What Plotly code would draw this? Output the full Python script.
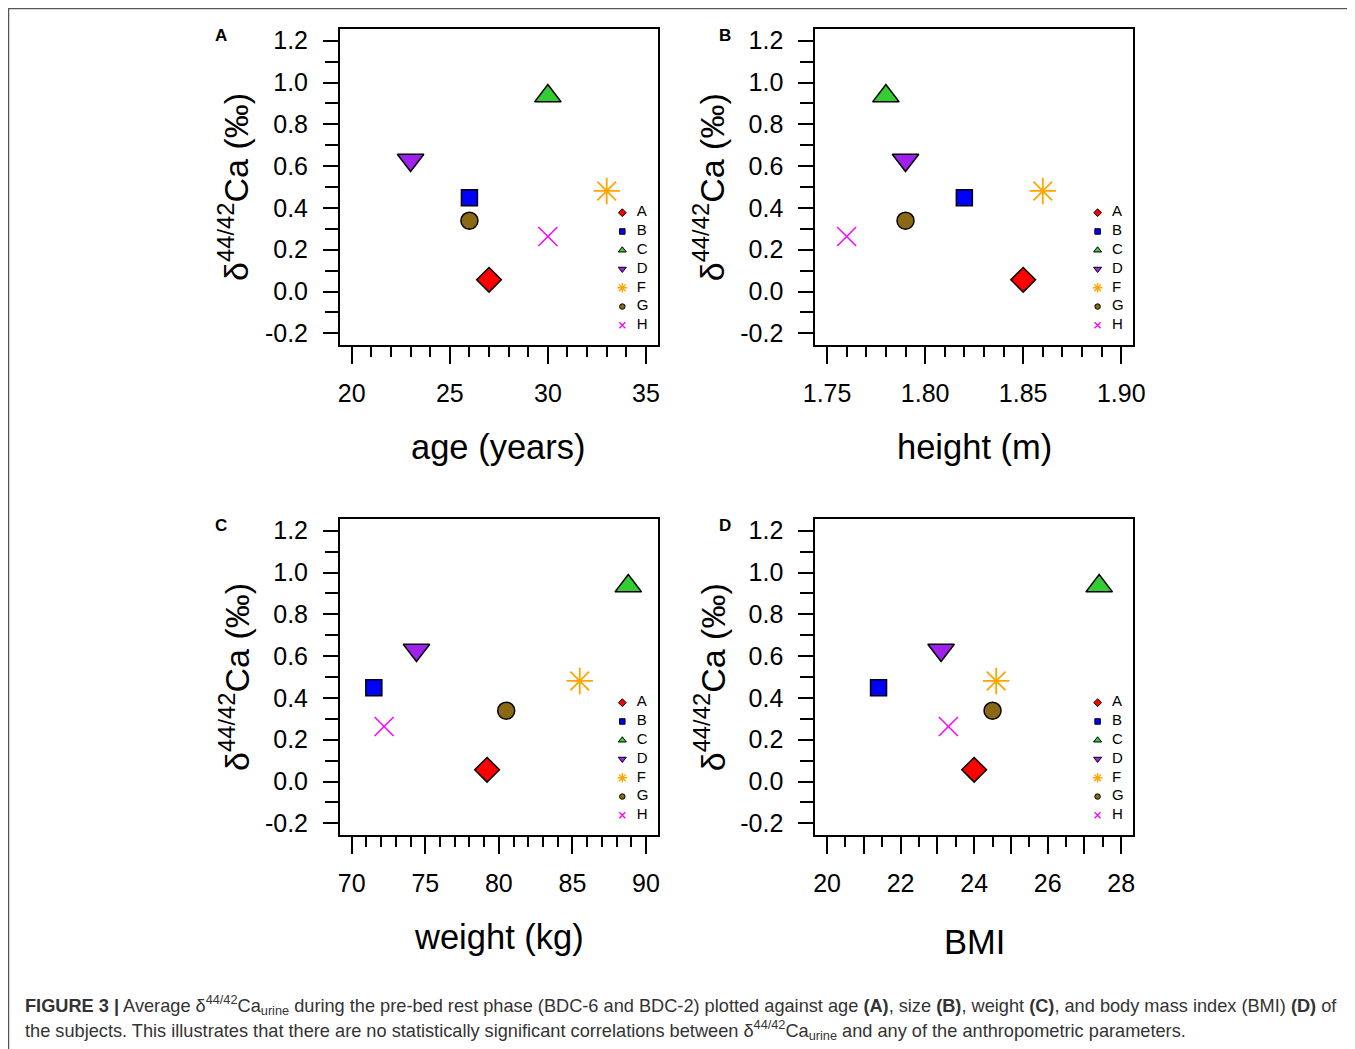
import plotly.graph_objects as go

# ---------------- data ----------------
subjects = ["A", "B", "C", "D", "F", "G", "H"]
delta_ca = [0.056, 0.449, 0.935, 0.629, 0.481, 0.339, 0.263]
age_years = [27, 26, 30, 23, 33, 26, 30]
height_m = [1.85, 1.82, 1.78, 1.79, 1.86, 1.79, 1.76]
weight_kg = [79.2, 71.5, 88.8, 74.4, 85.5, 80.5, 72.2]
bmi = [24.0, 21.4, 27.4, 23.1, 24.6, 24.5, 23.3]

y_tickvals = [-0.2, 0.0, 0.2, 0.4, 0.6, 0.8, 1.0, 1.2]
y_ticktext = ["-0.2", "0.0", "0.2", "0.4", "0.6", "0.8", "1.0", "1.2"]

age_tickvals = [20, 25, 30, 35]
age_ticktext = ["20", "25", "30", "35"]
height_tickvals = [1.75, 1.80, 1.85, 1.90]
height_ticktext = ["1.75", "1.80", "1.85", "1.90"]
weight_tickvals = [70, 75, 80, 85, 90]
weight_ticktext = ["70", "75", "80", "85", "90"]
bmi_tickvals = [20, 21, 22, 23, 24, 25, 26, 27, 28]
bmi_ticktext = ["20", "", "22", "", "24", "", "26", "", "28"]

panel_letters = ["A", "B", "C", "D"]
x_titles = ["age (years)", "height (m)", "weight (kg)", "BMI"]

# ---------------- styles ----------------
sym = ["diamond", "square", "triangle-up", "triangle-down", "asterisk-open", "circle", "x-thin-open"]
fill = ["#FF0000", "#0000FF", "#33CC33", "#A020F0", "#FFA500", "#8B6914", "#FF00FF"]
size_main = [19, 16, 23, 23, 22, 17, 19]
size_leg = [6, 5.5, 7, 7, 8, 5.5, 6]
lw_main = [1.5, 1.5, 1.5, 1.5, 1.8, 1.5, 1.5]
lw_leg = [1, 1, 1, 1, 1.4, 1, 1.3]
x_title_dy = [0, 0, 0, 5]

# page body has an 8px margin: figure is drawn at (8, 8)
OFF = 8
W, H = 1355 - OFF, 1049 - OFF


def px(x):
    return (x - OFF) / W


def py(y):
    return 1 - (y - OFF) / H


BOX_X0, BOX_X1 = 340.0, 657.7
BOX_Y0, BOX_Y1 = 29.0, 345.0
COL_OFF, ROW_OFF = 475.3, 490.0
BW, BH = BOX_X1 - BOX_X0, BOX_Y1 - BOX_Y0

FONT = "Liberation Sans, Arial, sans-serif"

panels = [
    dict(x=age_years, rng=[19.4, 35.6], tv=age_tickvals, tt=age_ticktext, minor=1, col=0, row=0),
    dict(x=height_m, rng=[1.744, 1.906], tv=height_tickvals, tt=height_ticktext, minor=0.01, col=1, row=0),
    dict(x=weight_kg, rng=[69.2, 90.8], tv=weight_tickvals, tt=weight_ticktext, minor=1, col=0, row=1),
    dict(x=bmi, rng=[19.68, 28.32], tv=bmi_tickvals, tt=bmi_ticktext, minor=0.5, col=1, row=1),
]

fig = go.Figure()
layout = dict(
    width=W, height=H, autosize=False, margin=dict(l=0, r=0, t=0, b=0, pad=0, autoexpand=False),
    paper_bgcolor="white", plot_bgcolor="rgba(0,0,0,0)", showlegend=False,
    font=dict(family=FONT, color="black"),
)
annotations = []
shapes = []

for k, p in enumerate(panels):
    x0 = BOX_X0 + p["col"] * COL_OFF
    x1 = BOX_X1 + p["col"] * COL_OFF
    y0 = BOX_Y0 + p["row"] * ROW_OFF
    y1 = BOX_Y1 + p["row"] * ROW_OFF
    dx = [px(x0), px(x1)]
    dy = [py(y1), py(y0)]
    n = k + 1
    sfx = "" if n == 1 else str(n)
    ln = k + 5
    layout["xaxis" + sfx] = dict(
        domain=dx, range=p["rng"], anchor="y" + sfx,
        showline=True, mirror=True, linecolor="black", linewidth=2,
        showgrid=False, zeroline=False, automargin=False,
        ticks="outside", ticklen=17, tickwidth=2, tickcolor="black",
        tickmode="array", tickvals=p["tv"], ticktext=p["tt"],
        tickfont=dict(size=25, family=FONT, color="black"),
        ticklabelstandoff=8,
        minor=dict(ticks="outside", ticklen=10, tickwidth=2, tickcolor="black",
                   dtick=p["minor"], tick0=p["tv"][0], showgrid=False),
    )
    layout["yaxis" + sfx] = dict(
        domain=dy, range=[-0.256, 1.256], anchor="x" + sfx,
        showline=True, mirror=True, linecolor="black", linewidth=2,
        showgrid=False, zeroline=False, automargin=False,
        ticks="outside", ticklen=15, tickwidth=2, tickcolor="black",
        tickmode="array", tickvals=y_tickvals, ticktext=y_ticktext,
        tickfont=dict(size=25, family=FONT, color="black"),
        ticklabelstandoff=10,
        minor=dict(ticks="outside", ticklen=13, tickwidth=2, tickcolor="black",
                   dtick=0.1, tick0=0, showgrid=False),
    )
    layout["xaxis" + str(ln)] = dict(domain=dx, range=[0, BW], anchor="y" + str(ln),
                                     visible=False, fixedrange=True, automargin=False)
    layout["yaxis" + str(ln)] = dict(domain=dy, range=[0, BH], anchor="x" + str(ln),
                                     visible=False, fixedrange=True, automargin=False)

    for i, s in enumerate(subjects):
        fig.add_trace(go.Scatter(
            x=[p["x"][i]], y=[delta_ca[i]], mode="markers", name=s,
            xaxis="x" + sfx, yaxis="y" + sfx, cliponaxis=False,
            marker=dict(symbol=sym[i], size=size_main[i], color=fill[i],
                        line=dict(color="black", width=lw_main[i])),
            hovertemplate=s + ": %{x}, %{y}<extra></extra>",
        ))
    leg_y = [132.3 - i * 18.77 for i in range(len(subjects))]
    for i, s in enumerate(subjects):
        fig.add_trace(go.Scatter(
            x=[BW - 35.4], y=[leg_y[i]], mode="markers",
            xaxis="x" + str(ln), yaxis="y" + str(ln), hoverinfo="skip",
            marker=dict(symbol=sym[i], size=size_leg[i], color=fill[i],
                        line=dict(color="black", width=lw_leg[i])),
        ))
    fig.add_trace(go.Scatter(
        x=[BW - 21] * len(subjects), y=leg_y, mode="text", text=subjects,
        textposition="middle right", xaxis="x" + str(ln), yaxis="y" + str(ln),
        hoverinfo="skip", textfont=dict(size=15, family=FONT, color="black"),
    ))

    annotations.append(dict(
        text="<b>" + panel_letters[k] + "</b>", xref="paper", yref="paper",
        x=px(221 + p["col"] * 504), y=py(36 + p["row"] * ROW_OFF),
        xanchor="center", yanchor="middle", showarrow=False,
        font=dict(size=17, family=FONT, color="black"),
    ))
    annotations.append(dict(
        text="δ<sup>44/42</sup>Ca (‰)", xref="paper", yref="paper",
        x=px(234 + p["col"] * COL_OFF), y=py((y0 + y1) / 2),
        xanchor="center", yanchor="middle", textangle=-90, showarrow=False,
        font=dict(size=34, family=FONT, color="black"),
    ))
    annotations.append(dict(
        text=x_titles[k], xref="paper", yref="paper",
        x=px((x0 + x1) / 2), y=py(447 + p["row"] * ROW_OFF + x_title_dy[k]),
        xanchor="center", yanchor="middle", showarrow=False,
        font=dict(size=34.5, family=FONT, color="black"),
    ))

caption1 = ("<b>FIGURE 3 |</b> Average δ<sup>44/42</sup>Ca<sub>urine</sub> during the pre-bed rest phase "
            "(BDC-6 and BDC-2) plotted against age <b>(A)</b>, size <b>(B)</b>, weight <b>(C)</b>, "
            "and body mass index (BMI) <b>(D)</b> of")
caption2 = ("the subjects. This illustrates that there are no statistically significant correlations "
            "between δ<sup>44/42</sup>Ca<sub>urine</sub> and any of the anthropometric parameters.")
for j, c in enumerate([caption1, caption2]):
    annotations.append(dict(
        text=c, xref="paper", yref="paper", x=px(23), y=py(1005 + j * 25),
        xanchor="left", yanchor="middle", showarrow=False,
        font=dict(size=18.2, family=FONT, color="#333333"),
    ))

# figure border (top and left)
shapes.append(dict(type="line", xref="paper", yref="paper", x0=px(8), x1=1.0,
                   y0=py(8.5), y1=py(8.5), line=dict(color="#555555", width=1.5)))
shapes.append(dict(type="line", xref="paper", yref="paper", x0=px(8.5), x1=px(8.5),
                   y0=0, y1=py(8), line=dict(color="#555555", width=1.5)))

layout["annotations"] = annotations
layout["shapes"] = shapes
fig.update_layout(**layout)
fig.write_html("out.html")
